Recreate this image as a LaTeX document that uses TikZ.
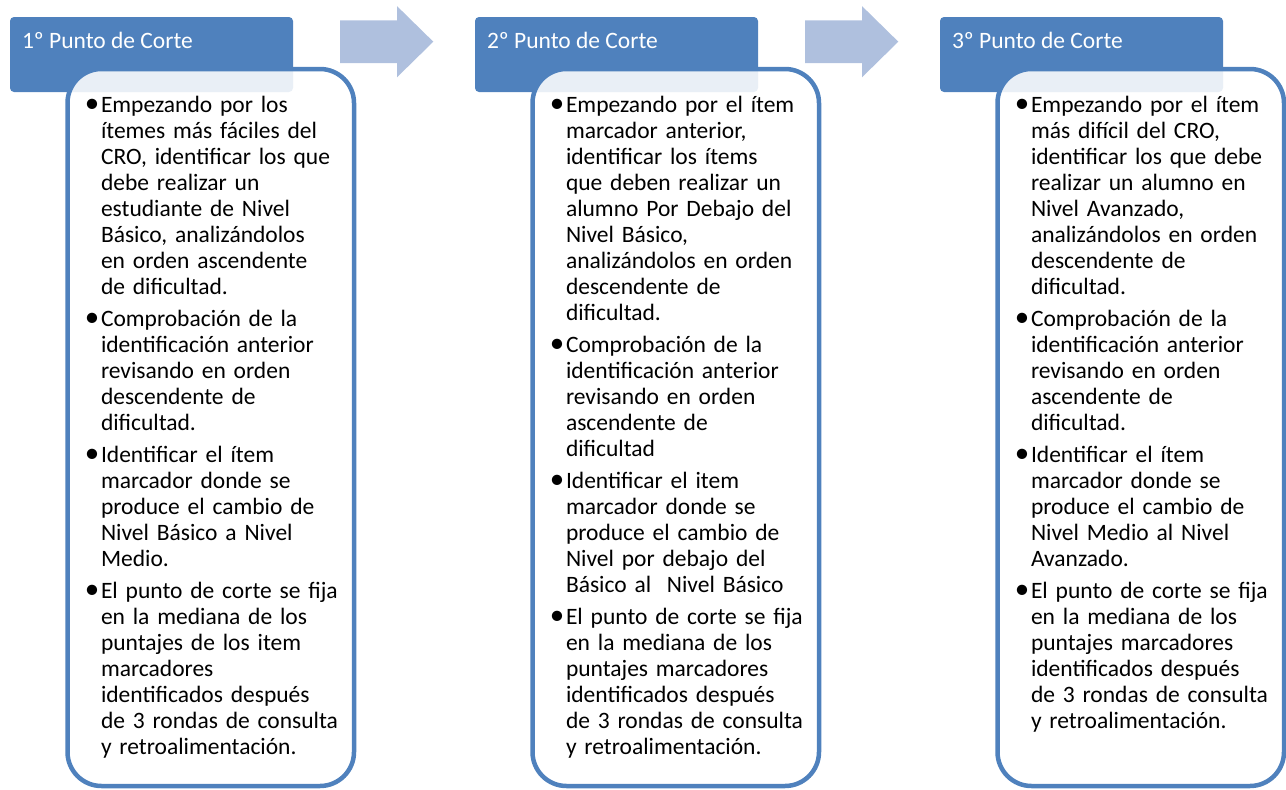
\documentclass[tikz,border=0pt]{standalone}
\usepackage{fontspec}
\setmainfont{Carlito}
\usetikzlibrary{calc}
\definecolor{accent}{RGB}{79,129,189}
\definecolor{arrowc}{RGB}{175,192,222}
\newcommand\bul{\par\noindent\llap{\raisebox{0.3pt}{\fontsize{29}{26}\selectfont•}\kern1.8pt}}
\newcommand\firstline{\rule{0pt}{18pt}}
\tikzset{
  hdr/.style={fill=accent, rounded corners=4pt, minimum width=283pt, minimum height=75pt, inner sep=0pt, outer sep=0pt},
  card/.style={draw=accent, line width=4.5pt, fill=white, fill opacity=0.88, rounded corners=34pt,
    minimum width=286.5pt, minimum height=717pt, inner sep=0pt, outer sep=0pt},
  htext/.style={anchor=base west, inner sep=0pt, outer sep=0pt, text=white, font=\fontsize{23.5}{26}\selectfont},
  btext/.style={anchor=north west, inner sep=0pt, outer sep=0pt, text width=270pt,
    font=\fontsize{23.5}{26}\selectfont\setlength{\parskip}{6pt}\raggedright},
  flow/.style={fill=arrowc}
}
\begin{document}
\begin{tikzpicture}[x=1pt,y=-1pt]
\useasboundingbox (0,0) rectangle (1286,790);
% arrows
\foreach \dx/\nm in {0/a1,465/a2}{
  \coordinate (\nm s) at (340+\dx,41.7);
  \fill[flow] ($(\nm s)+(0,-21.3)$) -- ++(57,0) -- ++(0,-14.3) -- ++(36.3,35.6) -- ++(-36.3,35.6) -- ++(0,-14.3) -- ++(-57,0) -- cycle;
}
% headers
\node[hdr] (h1) at (151.5,54.5) {};
\node[hdr] (h2) at (616.5,54.5) {};
\node[hdr] (h3) at (1081.5,54.5) {};
% cards
\node[card] (c1) at (210.75,427.5) {};
\node[card] (c2) at (675.75,427.5) {};
\node[card] (c3) at (1140.75,427.5) {};
% header texts
\node[htext] (t1) at (22,48) {1º Punto de Corte};
\node[htext] (t2) at (487,48) {2º Punto de Corte};
\node[htext] (t3) at (952,48) {3º Punto de Corte};
% body texts
\node[btext] (b1) at (101,80.7) {%
\bul\firstline Empezando por los\newline ítemes más fáciles del\newline CRO, identificar los que\newline debe realizar un\newline estudiante de Nivel\newline Básico, analizándolos\newline en orden ascendente\newline de dificultad.
\bul Comprobación de la\newline identificación anterior\newline revisando en orden\newline descendente de\newline dificultad.
\bul Identificar el ítem\newline marcador donde se\newline produce el cambio de\newline Nivel Básico a Nivel\newline Medio.
\bul El punto de corte se fija\newline en la mediana de los\newline puntajes de los item\newline marcadores\newline identificados después\newline de 3 rondas de consulta\newline y retroalimentación.\par};
\node[btext] (b2) at (566,80.7) {%
\bul\firstline Empezando por el ítem\newline marcador anterior,\newline identificar los ítems\newline que deben realizar un\newline alumno Por Debajo del\newline Nivel Básico,\newline analizándolos en orden\newline descendente de\newline dificultad.
\bul Comprobación de la\newline identificación anterior\newline revisando en orden\newline ascendente de\newline dificultad
\bul Identificar el item\newline marcador donde se\newline produce el cambio de\newline Nivel por debajo del\newline Básico al~~Nivel Básico
\bul El punto de corte se fija\newline en la mediana de los\newline puntajes marcadores\newline identificados después\newline de 3 rondas de consulta\newline y retroalimentación.\par};
\node[btext] (b3) at (1031,80.7) {%
\bul\firstline Empezando por el ítem\newline más difícil del CRO,\newline identificar los que debe\newline realizar un alumno en\newline Nivel Avanzado,\newline analizándolos en orden\newline descendente de\newline dificultad.
\bul Comprobación de la\newline identificación anterior\newline revisando en orden\newline ascendente de\newline dificultad.
\bul Identificar el ítem\newline marcador donde se\newline produce el cambio de\newline Nivel Medio al Nivel\newline Avanzado.
\bul El punto de corte se fija\newline en la mediana de los\newline puntajes marcadores\newline identificados después\newline de 3 rondas de consulta\newline y retroalimentación.\par};
\end{tikzpicture}
\end{document}
